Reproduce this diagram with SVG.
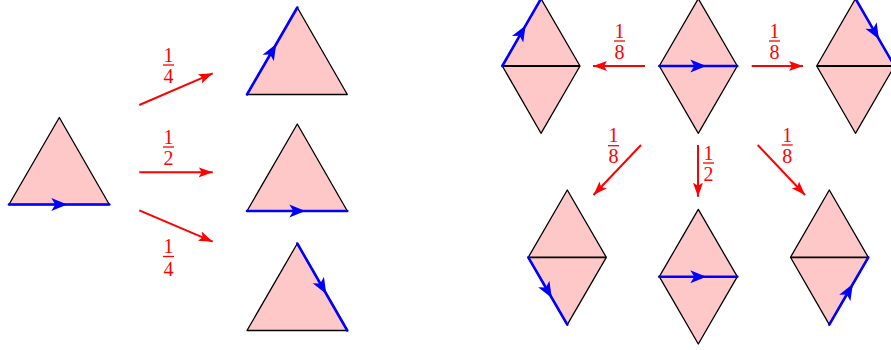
<svg xmlns="http://www.w3.org/2000/svg" width="891" height="350" viewBox="0 0 891 350">
<style>
.tri{fill:#ffc8c8;stroke:#000;stroke-width:1.3;stroke-linejoin:round}
.mid{fill:none;stroke:#000;stroke-width:1.8}
.blue{fill:none;stroke:#0000ff;stroke-width:2.6;stroke-linecap:round}
.red{fill:none;stroke:#ff0000;stroke-width:2}
.fr{font-family:"Liberation Serif","DejaVu Serif",serif;font-size:20px;fill:#ff0000;text-anchor:middle}
.bar{stroke:#ff0000;stroke-width:1.3}
</style>
<defs>
<marker id="bh" markerUnits="userSpaceOnUse" markerWidth="18" markerHeight="14" refX="8" refY="7" orient="auto">
<path d="M0,0.5 L16,7 L0,13.5 L4,7 z" fill="#0000ff"/>
</marker>
<marker id="rh" markerUnits="userSpaceOnUse" markerWidth="16" markerHeight="12" refX="14" refY="6" orient="auto">
<path d="M0,1 L14,6 L0,11 L3,6 z" fill="#ff0000"/>
</marker>
</defs>

<!-- Left part -->
<g id="t0">
<path class="tri" d="M9,204.5 L59.3,117.5 L109.3,204.5 z"/>
<path class="blue" marker-mid="url(#bh)" d="M9,204.5 L59.3,204.5 L109.3,204.5"/>
</g>
<g id="t1">
<path class="tri" d="M247,94.5 L297.3,7.5 L347.3,94.5 z"/>
<path class="blue" marker-mid="url(#bh)" d="M247,94.5 L272.2,51 L297.3,7.5"/>
</g>
<g id="t2">
<path class="tri" d="M247,211 L297.3,124 L347.3,211 z"/>
<path class="blue" marker-mid="url(#bh)" d="M247,211 L297.3,211 L347.3,211"/>
</g>
<g id="t3">
<path class="tri" d="M247,330.5 L297.3,243.5 L347.3,330.5 z"/>
<path class="blue" marker-mid="url(#bh)" d="M297.3,243.5 L322.3,287 L347.3,330.5"/>
</g>

<!-- Right part: top row -->
<g id="dL">
<path class="tri" d="M502.3,66 L541,-1.3 L580,66 L541,133.3 z"/>
<path class="mid" d="M502.3,66 L580,66"/>
<path class="blue" marker-mid="url(#bh)" d="M502.3,66 L521.6,32.4 L541,-1.3"/>
</g>
<g id="dC">
<path class="tri" d="M659.3,66 L698.3,-1.3 L737.3,66 L698.3,133.3 z"/>
<path class="blue" marker-mid="url(#bh)" d="M659.3,66 L698.3,66 L737.3,66"/>
</g>
<g id="dR">
<path class="tri" d="M816.7,66 L855.5,-1.3 L894.5,66 L855.5,133.3 z"/>
<path class="mid" d="M816.7,66 L894.5,66"/>
<path class="blue" marker-mid="url(#bh)" d="M855.5,-1.3 L875,32.4 L894.5,66"/>
</g>

<!-- Right part: bottom row -->
<g id="dBL">
<path class="tri" d="M528.3,257.3 L567.3,190 L606.3,257.3 L567.3,324.6 z"/>
<path class="mid" d="M528.3,257.3 L606.3,257.3"/>
<path class="blue" marker-mid="url(#bh)" d="M528.3,257.3 L547.8,291 L567.3,324.6"/>
</g>
<g id="dBC">
<path class="tri" d="M659.3,276.7 L698.3,209.4 L737.3,276.7 L698.3,344 z"/>
<path class="blue" marker-mid="url(#bh)" d="M659.3,276.7 L698.3,276.7 L737.3,276.7"/>
</g>
<g id="dBR">
<path class="tri" d="M790.5,257.3 L829.3,190 L868.3,257.3 L829.3,324.6 z"/>
<path class="mid" d="M790.5,257.3 L868.3,257.3"/>
<path class="blue" marker-mid="url(#bh)" d="M829.3,324.6 L848.8,291 L868.3,257.3"/>
</g>

<!-- Connectors -->
<g id="connectors">
<path class="red" marker-end="url(#rh)" d="M139.3,105 L212.7,73.3"/>
<path class="red" marker-end="url(#rh)" d="M139.3,172.3 L212.7,172.3"/>
<path class="red" marker-end="url(#rh)" d="M139.3,210.3 L212.7,241.7"/>
<path class="red" marker-end="url(#rh)" d="M645,66 L593,66"/>
<path class="red" marker-end="url(#rh)" d="M751.7,66 L803,66"/>
<path class="red" marker-end="url(#rh)" d="M641,145 L593.5,195"/>
<path class="red" marker-end="url(#rh)" d="M698,145 L698,196.7"/>
<path class="red" marker-end="url(#rh)" d="M757.7,145 L805,195"/>
</g>

<!-- Labels -->
<g id="labels">
<text class="fr" x="168.5" y="61.5">1</text><line class="bar" x1="163" y1="65" x2="174" y2="65"/><text class="fr" x="168.5" y="82.5">4</text>
<text class="fr" x="168.5" y="143.5">1</text><line class="bar" x1="163" y1="147" x2="174" y2="147"/><text class="fr" x="168.5" y="164.5">2</text>
<text class="fr" x="168.5" y="253">1</text><line class="bar" x1="163" y1="256.5" x2="174" y2="256.5"/><text class="fr" x="168.5" y="275.5">4</text>
<text class="fr" x="619.5" y="37.5">1</text><line class="bar" x1="614" y1="41" x2="625" y2="41"/><text class="fr" x="619.5" y="58.5">8</text>
<text class="fr" x="774.5" y="37.5">1</text><line class="bar" x1="769" y1="41" x2="780" y2="41"/><text class="fr" x="774.5" y="58.5">8</text>
<text class="fr" x="613.5" y="142">1</text><line class="bar" x1="608" y1="145.7" x2="619" y2="145.7"/><text class="fr" x="613.5" y="163">8</text>
<text class="fr" x="708.5" y="159.5">1</text><line class="bar" x1="703" y1="163" x2="714" y2="163"/><text class="fr" x="708.5" y="180.5">2</text>
<text class="fr" x="787.2" y="141.5">1</text><line class="bar" x1="781.7" y1="145" x2="792.7" y2="145"/><text class="fr" x="787.2" y="162.5">8</text>
</g>
</svg>
